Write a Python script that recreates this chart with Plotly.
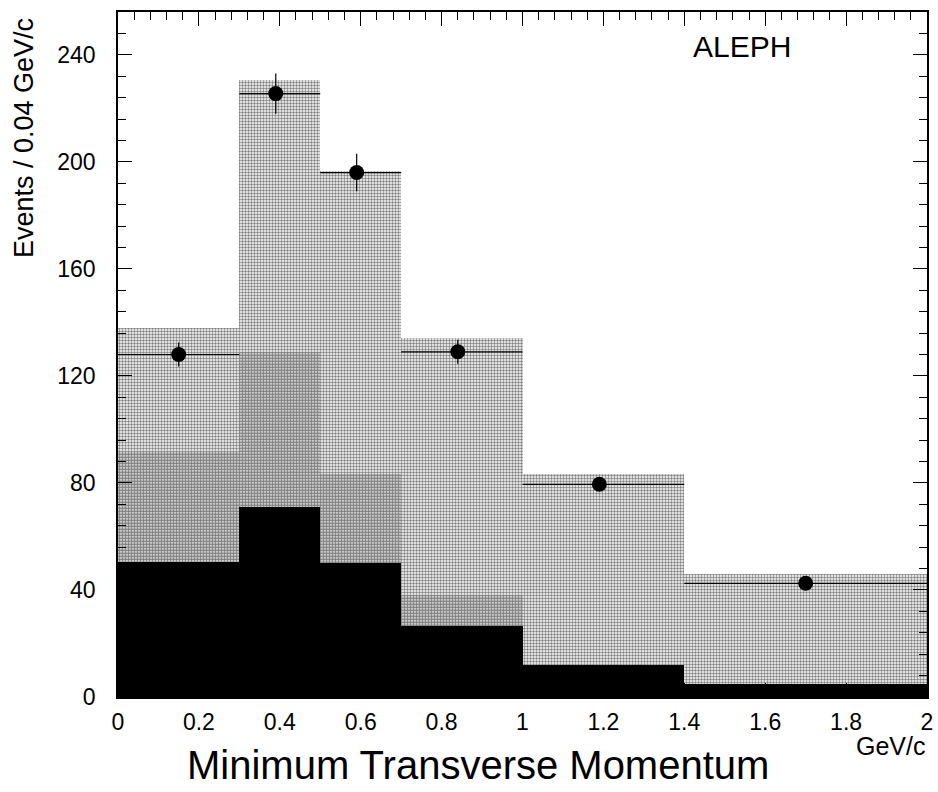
import plotly.graph_objects as go

# Bin edges in GeV/c
bin_edges = [0.0, 0.3, 0.5, 0.7, 1.0, 1.4, 2.0]

# Stacked Monte Carlo contributions (cumulative heights, events / 0.04 GeV/c)
mc_total = [138, 230.5, 196.5, 134, 83.5, 46]
mc_middle = [91.5, 129, 83.5, 38, 12, 5]
mc_black = [50.5, 71, 50, 26.5, 12, 5]

# Data points
data_x = [0.15, 0.39, 0.59, 0.84, 1.19, 1.70]
data_y = [128, 225.5, 196, 129, 79.5, 42.5]
data_err = [4.5, 7.5, 7, 4.5, 2, 1.5]

x_ticks = [0, 0.2, 0.4, 0.6, 0.8, 1, 1.2, 1.4, 1.6, 1.8, 2]
y_ticks = [0, 40, 80, 120, 160, 200, 240]

centers = [(a + b) / 2 for a, b in zip(bin_edges[:-1], bin_edges[1:])]
widths = [b - a for a, b in zip(bin_edges[:-1], bin_edges[1:])]
err_plus = [b - x for x, b in zip(data_x, bin_edges[1:])]
err_minus = [x - a for x, a in zip(data_x, bin_edges[:-1])]

FONT = "Liberation Sans, Arial, sans-serif"

fig = go.Figure()

fig.add_trace(go.Bar(
    x=centers, y=mc_total, width=widths,
    marker=dict(color="#c0c0c0", line_width=0,
                pattern=dict(shape=".", fgcolor="#000000", bgcolor="#ffffff",
                             size=3, solidity=0.5)),
    showlegend=False,
))
fig.add_trace(go.Bar(
    x=centers, y=mc_middle, width=widths,
    marker=dict(color="#909090", line_width=0,
                pattern=dict(shape=".", fgcolor="#000000", bgcolor="#ffffff",
                             size=3, solidity=0.75)),
    showlegend=False,
))
fig.add_trace(go.Bar(
    x=centers, y=mc_black, width=widths,
    marker=dict(color="#000000", line_width=0),
    showlegend=False,
))

fig.add_trace(go.Scatter(
    x=data_x, y=data_y, mode="markers",
    marker=dict(color="black", size=15, symbol="circle"),
    error_x=dict(type="data", symmetric=False, array=err_plus,
                 arrayminus=err_minus, color="black", thickness=1.2, width=0),
    error_y=dict(type="data", array=data_err, color="black",
                 thickness=1.2, width=0),
    showlegend=False,
))

axis_common = dict(
    showline=True, linecolor="black", linewidth=1.5, mirror="ticks",
    ticks="inside", tickcolor="black", tickwidth=1.2, showgrid=False,
    zeroline=False, automargin=False,
    tickfont=dict(family=FONT, size=23, color="black"),
)

fig.update_xaxes(
    range=[0, 2], tickvals=x_ticks, ticklen=14,
    minor=dict(dtick=0.04, ticks="inside", ticklen=8, tickcolor="black",
               tickwidth=1.2, showgrid=False),
    ticklabelstandoff=4,
    **axis_common,
)
fig.update_yaxes(
    range=[0, 256], tickvals=y_ticks, ticklen=14,
    minor=dict(dtick=8, ticks="inside", ticklen=8, tickcolor="black",
               tickwidth=1.2, showgrid=False),
    ticklabelstandoff=16,
    **axis_common,
)

fig.add_annotation(
    x=0, y=0.816, xref="paper", yref="paper", xanchor="center", yanchor="middle",
    xshift=-94, text="Events / 0.04 GeV/c", textangle=-90,
    showarrow=False, font=dict(family=FONT, size=27, color="black"),
)
fig.add_annotation(
    x=0, y=0, xref="paper", yref="paper", xanchor="left", yanchor="top",
    xshift=67, yshift=-44, text="Minimum Transverse Momentum",
    showarrow=False, font=dict(family=FONT, size=40, color="black"),
)
fig.add_annotation(
    x=1, y=0, xref="paper", yref="paper", xanchor="right", yanchor="middle",
    yshift=-49, text="GeV/c",
    showarrow=False, font=dict(family=FONT, size=25, color="black"),
)
fig.add_annotation(
    x=0, y=1, xref="paper", yref="paper", xanchor="left", yanchor="middle",
    xshift=573, yshift=-34, text="ALEPH", showarrow=False,
    font=dict(family=FONT, size=30, color="black"),
)

fig.update_layout(
    width=938, height=792, barmode="overlay", bargap=0,
    plot_bgcolor="white", paper_bgcolor="white",
    margin=dict(l=118, r=11, t=12, b=95),
)

fig.write_html("out.html")
